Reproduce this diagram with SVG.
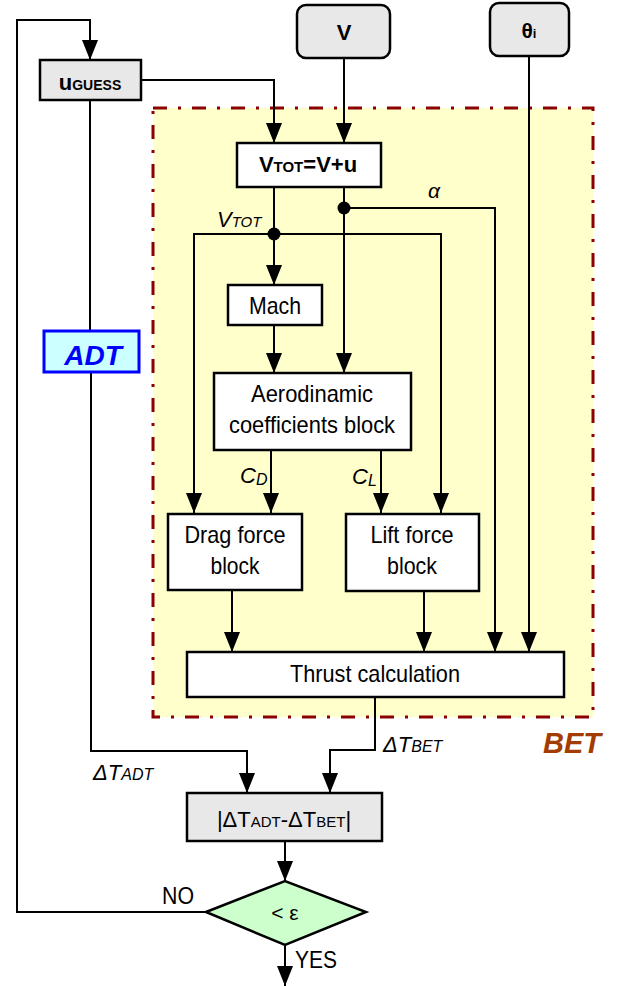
<svg xmlns="http://www.w3.org/2000/svg" width="627" height="986" viewBox="0 0 627 986">
<defs>
<marker id="ah" markerUnits="userSpaceOnUse" markerWidth="20" markerHeight="16" viewBox="0 0 20 16" refX="20" refY="8" orient="auto">
<path d="M0,0 L20,8 L0,16 z" fill="#000"/>
</marker>
<style>
.ln{fill:none;stroke:#000;stroke-width:2;}
.ar{fill:none;stroke:#000;stroke-width:2;marker-end:url(#ah);}
.bx{fill:#fff;stroke:#000;stroke-width:2.5;}
.gb{fill:#e8e8e8;stroke:#000;stroke-width:2.5;}
.t{font-family:"Liberation Sans",Arial,sans-serif;font-size:22px;fill:#000;}
.n{font-size:24px;}
.b{font-weight:bold;}
.i{font-style:italic;}
.m{text-anchor:middle;}
</style>
</defs>
<g id="bet-region">
<rect x="153" y="108" width="440" height="609" fill="#ffffcc" stroke="#8b0000" stroke-width="3" stroke-dasharray="14 11 3 11"/>
<text x="543" y="753" class="t b i" style="font-size:29px;fill:#a33c00">BET</text>
</g>
<g id="connectors">
<polyline class="ar" points="206,912 17,912 17,20 90,20 90,60"/>
<polyline class="ar" points="141,80 274,80 274,143"/>
<polyline class="ar" points="344,58 344,143"/>
<polyline class="ar" points="529,56 529,652"/>
<polyline class="ar" points="274,187 274,285"/>
<polyline class="ar" points="344,187 344,373"/>
<polyline class="ar" points="344,208 495,208 495,652"/>
<polyline class="ar" points="274,234 194,234 194,513"/>
<polyline class="ar" points="274,234 441,234 441,513"/>
<polyline class="ar" points="274,325 274,373"/>
<polyline class="ar" points="271,450 271,513"/>
<polyline class="ar" points="381,450 381,513"/>
<polyline class="ar" points="232,590 232,652"/>
<polyline class="ar" points="424,591 424,652"/>
<polyline class="ar" points="375,697 375,750 330,750 330,793"/>
<polyline class="ln" points="90,100 90,331"/>
<polyline class="ar" points="91,372 91,751 247,751 247,793"/>
<polyline class="ar" points="285,841 285,881"/>
<polyline class="ar" points="285,945 285,986"/>
<circle cx="274" cy="234" r="6.5" fill="#000"/>
<circle cx="344" cy="208" r="6.5" fill="#000"/>
<text x="434" y="198" class="t i m" style="font-size:21px">α</text>
<text x="217" y="227" class="t i" style="font-size:22px">V<tspan style="font-size:15px">TOT</tspan></text>
<text x="240" y="483" class="t i" style="font-size:22px">C<tspan style="font-size:16px" dy="2">D</tspan></text>
<text x="352" y="484" class="t i" style="font-size:22px">C<tspan style="font-size:16px" dy="2">L</tspan></text>
<text x="93" y="780" class="t i" style="font-size:22px">ΔT<tspan style="font-size:16px">ADT</tspan></text>
<text x="383" y="752" class="t i" style="font-size:22px">ΔT<tspan style="font-size:16px">BET</tspan></text>
<text x="162" y="904" class="t n" textLength="32" lengthAdjust="spacingAndGlyphs">NO</text>
<text x="295" y="968" class="t n" textLength="42" lengthAdjust="spacingAndGlyphs">YES</text>
</g>
<g id="u-guess">
<rect x="40" y="60" width="101" height="40" class="gb"/>
<text x="90" y="90" class="t b m">u<tspan style="font-size:14px">GUESS</tspan></text>
</g>
<g id="v-input">
<rect x="297" y="5" width="93" height="53" rx="9" class="gb"/>
<text x="344" y="40" class="t b m">V</text>
</g>
<g id="theta-input">
<rect x="490" y="3" width="79" height="53" rx="9" class="gb"/>
<text x="529" y="38" class="t b m" style="font-size:21px">θ<tspan style="font-size:13px">i</tspan></text>
</g>
<g id="vtot">
<rect x="237" y="143" width="144" height="44" class="bx"/>
<text x="308" y="172" class="t b m">V<tspan style="font-size:15px">TOT</tspan>=V+u</text>
</g>
<g id="adt">
<rect x="44" y="331" width="95" height="41" fill="#ccffff" stroke="#0000ff" stroke-width="3"/>
<text x="93" y="365" class="t b i m" style="font-size:28px;fill:#0000ff">ADT</text>
</g>
<g id="mach">
<rect x="228" y="285" width="94" height="40" class="bx"/>
<text x="275" y="314" class="t n m" textLength="52" lengthAdjust="spacingAndGlyphs">Mach</text>
</g>
<g id="aero">
<rect x="214" y="373" width="197" height="77" class="bx"/>
<text x="312" y="402" class="t n m" textLength="122" lengthAdjust="spacingAndGlyphs">Aerodinamic</text>
<text x="312" y="433" class="t n m" textLength="166" lengthAdjust="spacingAndGlyphs">coefficients block</text>
</g>
<g id="drag">
<rect x="168" y="514" width="134" height="76" class="bx"/>
<text x="235" y="543" class="t n m" textLength="101" lengthAdjust="spacingAndGlyphs">Drag force</text>
<text x="235" y="574" class="t n m" textLength="49" lengthAdjust="spacingAndGlyphs">block</text>
</g>
<g id="lift">
<rect x="346" y="514" width="133" height="77" class="bx"/>
<text x="412" y="543" class="t n m" textLength="83" lengthAdjust="spacingAndGlyphs">Lift force</text>
<text x="412" y="574" class="t n m" textLength="50" lengthAdjust="spacingAndGlyphs">block</text>
</g>
<g id="thrust">
<rect x="187" y="652" width="377" height="45" class="bx"/>
<text x="375" y="682" class="t n m" textLength="170" lengthAdjust="spacingAndGlyphs">Thrust calculation</text>
</g>
<g id="delta">
<rect x="187" y="793" width="195" height="48" class="gb"/>
<text x="284" y="827" class="t m">|ΔT<tspan style="font-size:15px">ADT</tspan>-ΔT<tspan style="font-size:15px">BET</tspan>|</text>
</g>
<g id="decision">
<polygon points="206,912 285,881 366,912 285,945" fill="#ccffcc" stroke="#000" stroke-width="2.5"/>
<text x="285" y="920" class="t m" style="font-size:21px">&lt; ε</text>
</g>
</svg>
